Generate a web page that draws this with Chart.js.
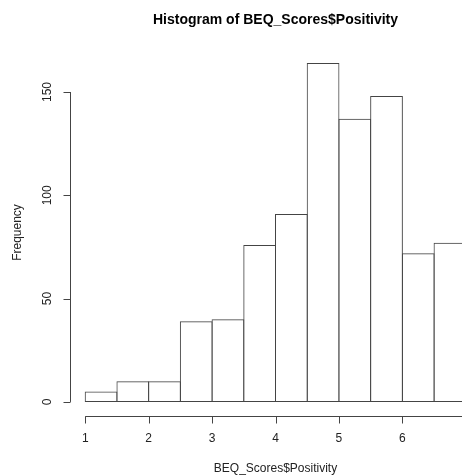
<!DOCTYPE html>
<html>
<head>
<meta charset="utf-8">
<script src="https://cdn.jsdelivr.net/npm/chart.js@4"></script>
<style>
  html, body { margin: 0; padding: 0; background: #fff; }
  #wrap { width: 462px; height: 476px; }
</style>
</head>
<body>
<div id="wrap"><canvas id="hist" width="462" height="476"></canvas></div>
<script>
// histogram bins (left edges, width 0.5) and counts
const binStarts = [1, 1.5, 2, 2.5, 3, 3.5, 4, 4.5, 5, 5.5, 6, 6.5];
const counts = [5, 10, 10, 39, 40, 76, 91, 164, 137, 148, 72, 77];
const xTicks = [1, 2, 3, 4, 5, 6, 7];
const yTicks = [0, 50, 100, 150];

const titleText = 'Histogram of BEQ_Scores$Positivity';
const xTitle = 'BEQ_Scores$Positivity';
const yTitle = 'Frequency';

const binWidth = 0.5;
const axisColor = '#444';

// R-style axes: offset lines spanning only the tick range, rotated y labels
const rAxes = {
    id: 'rAxes',
    afterDraw(chart) {
        const { ctx, chartArea } = chart;
        const xs = chart.scales.x;
        const ys = chart.scales.y;
        ctx.save();
        ctx.strokeStyle = axisColor;
        ctx.fillStyle = '#222';
        ctx.lineWidth = 1;

        // x axis
        const yLine = Math.round(chartArea.bottom) + 0.5;
        const x0 = xs.getPixelForValue(xTicks[0]);
        const x1 = xs.getPixelForValue(xTicks[xTicks.length - 1]);
        ctx.beginPath();
        ctx.moveTo(x0, yLine);
        ctx.lineTo(x1, yLine);
        xTicks.forEach(t => {
            const px = Math.round(xs.getPixelForValue(t)) + 0.5;
            ctx.moveTo(px, yLine);
            ctx.lineTo(px, yLine + 7);
        });
        ctx.stroke();
        ctx.font = '12px "Liberation Sans", Arial, sans-serif';
        ctx.textAlign = 'center';
        ctx.textBaseline = 'middle';
        xTicks.forEach(t => {
            ctx.fillText(String(t), xs.getPixelForValue(t), 439);
        });

        // y axis
        const xLine = Math.round(chartArea.left) + 0.5;
        ctx.beginPath();
        ctx.moveTo(xLine, ys.getPixelForValue(yTicks[0]));
        ctx.lineTo(xLine, ys.getPixelForValue(yTicks[yTicks.length - 1]));
        yTicks.forEach(t => {
            const py = Math.round(ys.getPixelForValue(t)) + 0.5;
            ctx.moveTo(xLine, py);
            ctx.lineTo(xLine - 7, py);
        });
        ctx.stroke();
        yTicks.forEach(t => {
            ctx.save();
            ctx.translate(48, ys.getPixelForValue(t));
            ctx.rotate(-Math.PI / 2);
            ctx.fillText(String(t), 0, 0);
            ctx.restore();
        });

        // titles
        const plotMid = (chartArea.left + xs.getPixelForValue(7.24)) / 2;
        ctx.fillText(xTitle, plotMid, 469);
        ctx.save();
        ctx.translate(18, (chartArea.top + chartArea.bottom) / 2);
        ctx.rotate(-Math.PI / 2);
        ctx.fillText(yTitle, 0, 0);
        ctx.restore();

        ctx.font = 'bold 14px "Liberation Sans", Arial, sans-serif';
        ctx.fillStyle = '#000';
        ctx.fillText(titleText, plotMid, 20);
        ctx.restore();
    },
};

new Chart(document.getElementById('hist').getContext('2d'), {
    type: 'bar',
    data: {
        datasets: [{
            data: binStarts.map((b, i) => ({ x: b + binWidth / 2, y: counts[i] })),
            backgroundColor: 'rgba(255, 255, 255, 0)',
            borderColor: '#444',
            borderWidth: 1,
            borderSkipped: false,
            // a hair over 1 so neighbouring bars share one edge line
            barPercentage: 1.032,
            categoryPercentage: 1,
        }],
    },
    options: {
        responsive: false,
        animation: false,
        layout: { padding: { left: 70, right: 0, top: 49.5, bottom: 60.5 } },
        plugins: {
            legend: { display: false },
            tooltip: { enabled: false },
            title: { display: false },
        },
        scales: {
            x: { type: 'linear', offset: false, min: 0.76, max: 6.94, display: false },
            y: { min: -6.56, max: 170.56, display: false },
        },
    },
    plugins: [rAxes],
});
</script>
</body>
</html>
